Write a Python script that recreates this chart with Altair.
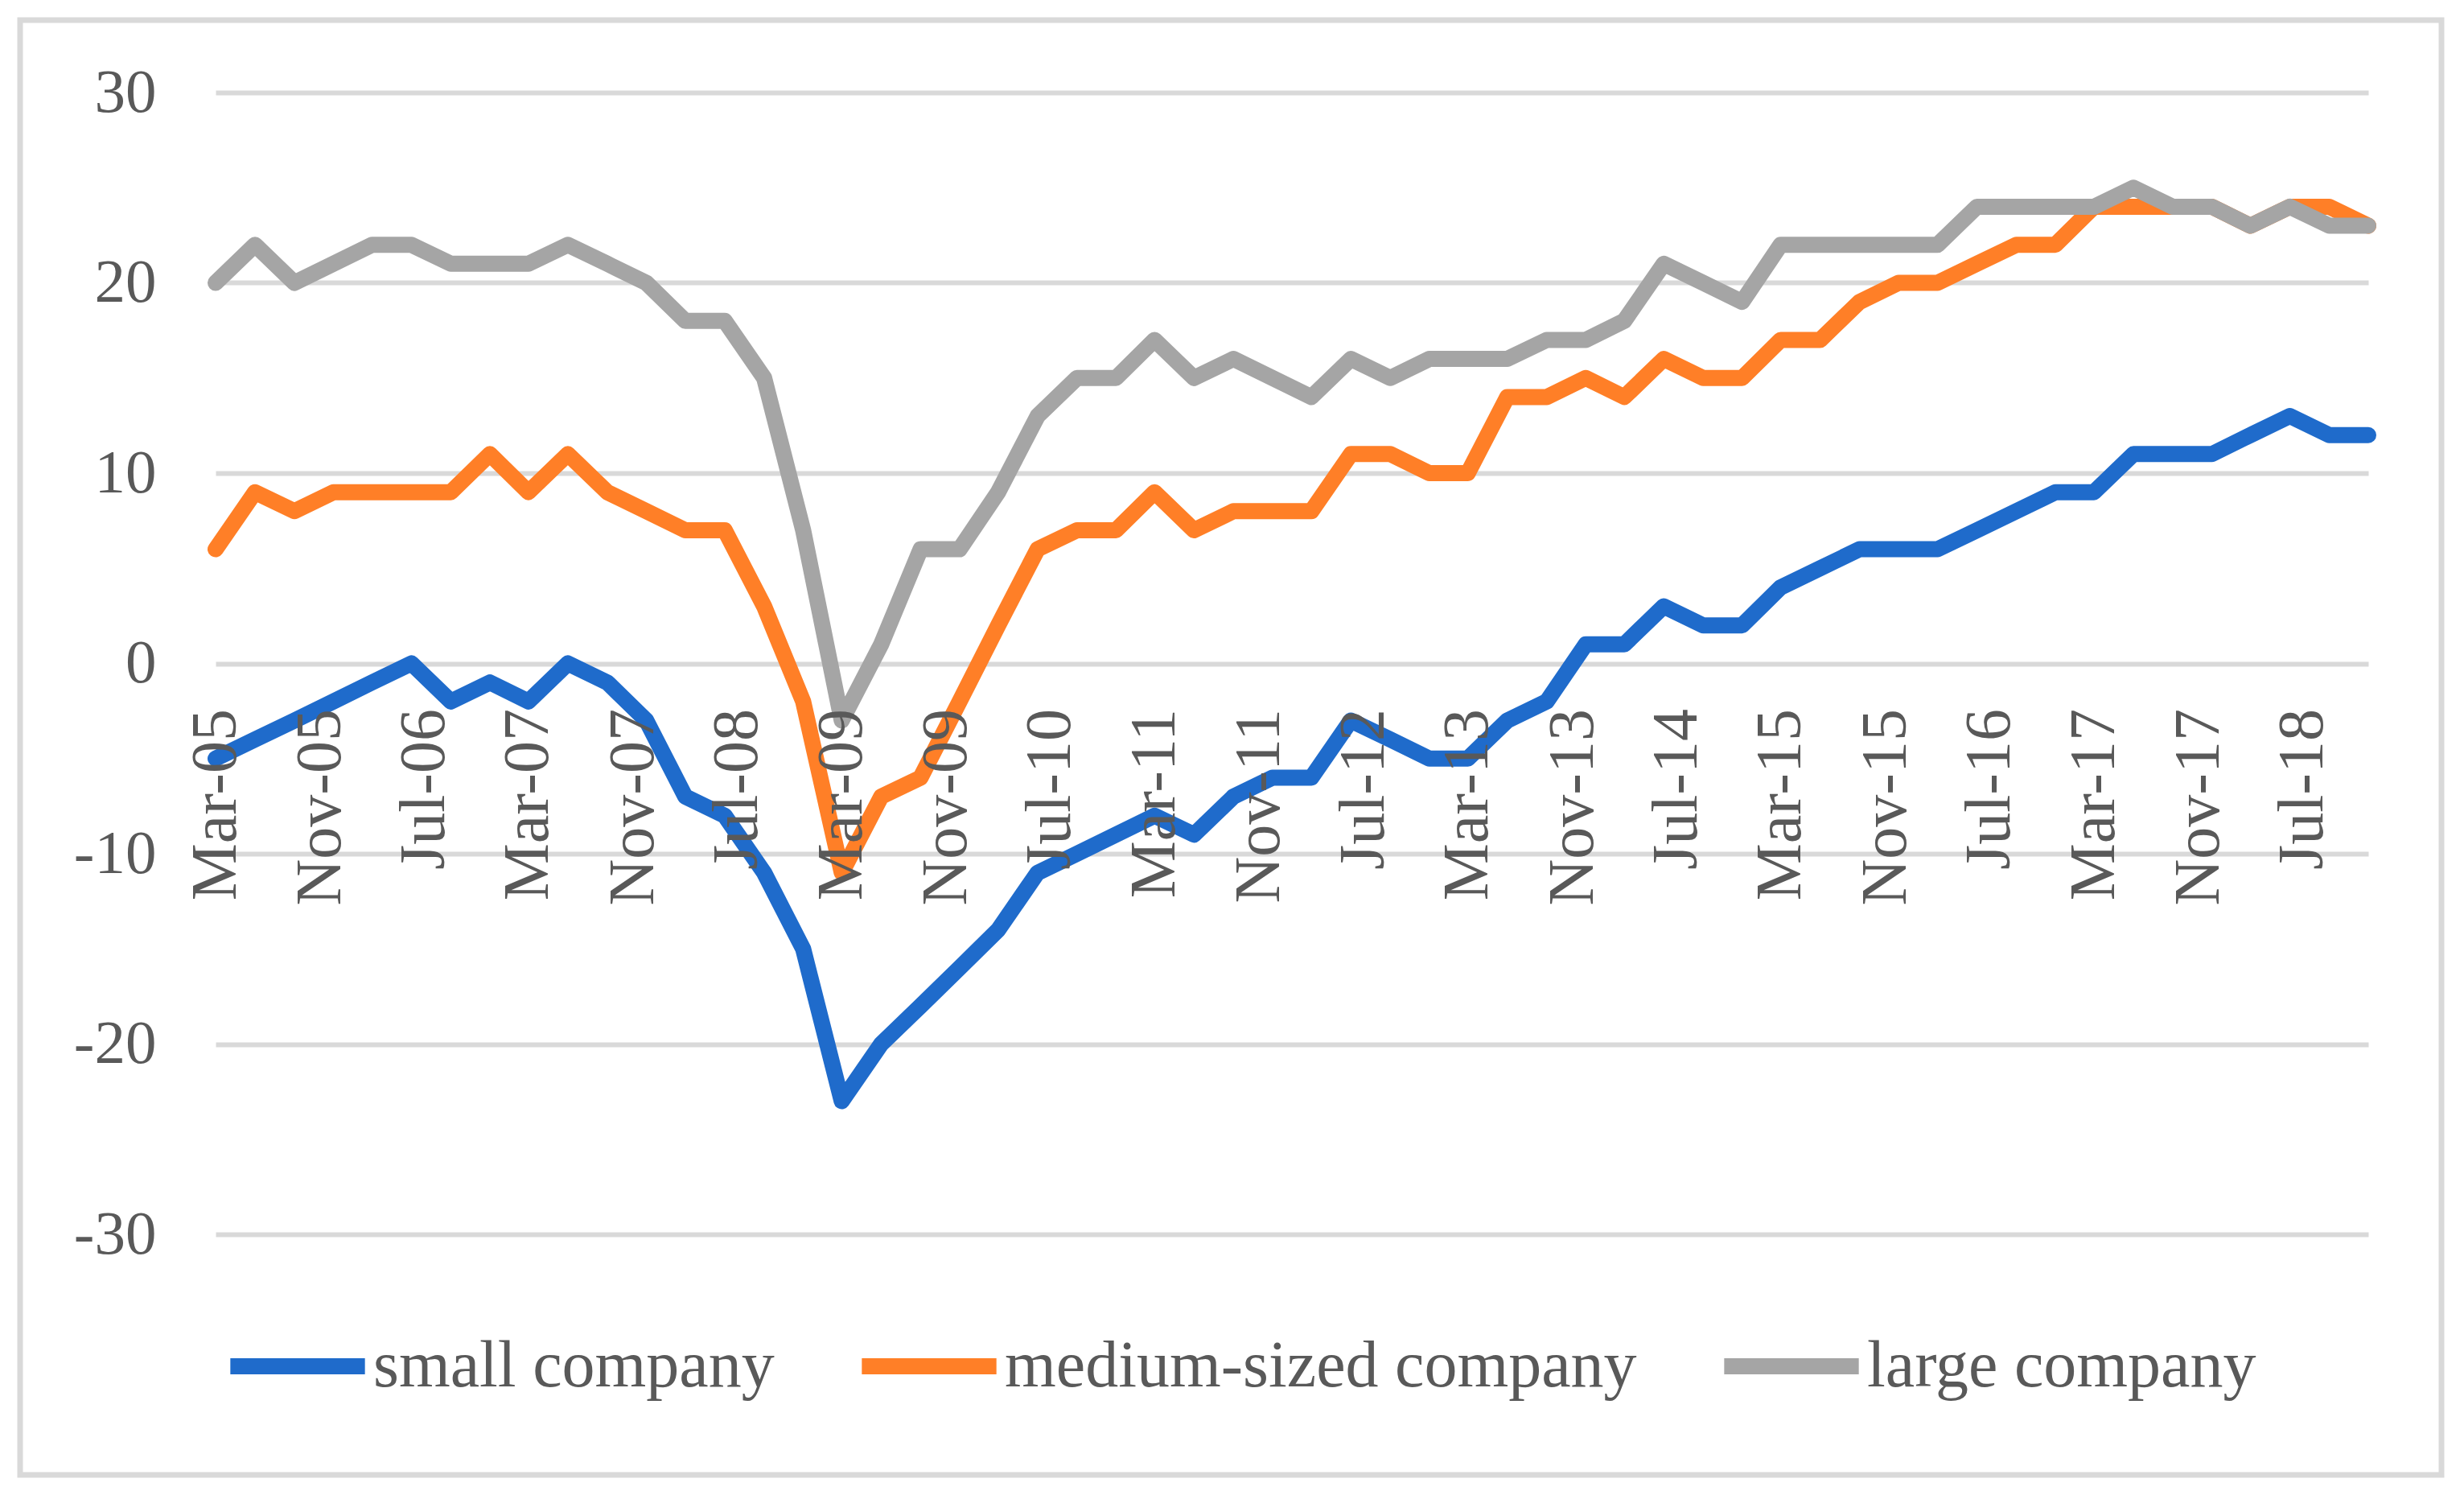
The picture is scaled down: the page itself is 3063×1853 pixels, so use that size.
import altair as alt
import pandas as pd

years = list(range(2005, 2019))
months = [3, 6, 9, 12]

small = [-5, -4, -3, -2, -1, 0, -2, -1, -2, 0, -1, -3, -7, -8, -11, -15,
         -23, -20, -18, -16, -14, -11, -10, -9, -8, -9, -7, -6, -6, -3, -4, -5,
         -5, -3, -2, 1, 1, 3, 2, 2, 4, 5, 6, 6, 6, 7, 8, 9,
         9, 11, 11, 11, 12, 13, 12, 12]
medium = [6, 9, 8, 9, 9, 9, 9, 11, 9, 11, 9, 8, 7, 7, 3, -2,
          -11, -7, -6, -2, 2, 6, 7, 7, 9, 7, 8, 8, 8, 11, 11, 10,
          10, 14, 14, 15, 14, 16, 15, 15, 17, 17, 19, 20, 20, 21, 22, 22,
          24, 24, 24, 24, 23, 24, 24, 23]
large = [20, 22, 20, 21, 22, 22, 21, 21, 21, 22, 21, 20, 18, 18, 15, 7,
         -3, 1, 6, 6, 9, 13, 15, 15, 17, 15, 16, 15, 14, 16, 15, 16,
         16, 16, 17, 17, 18, 21, 20, 19, 22, 22, 22, 22, 22, 24, 24, 24,
         24, 25, 24, 24, 23, 24, 23, 23]

series_names = ["small company", "medium-sized company", "large company"]
colors = ["#1F6BCB", "#FF7F27", "#A5A5A5"]

# tick labels (every 8 months)
label_ym = [(2005, 3), (2005, 11), (2006, 7), (2007, 3), (2007, 11), (2008, 7),
            (2009, 3), (2009, 11), (2010, 7), (2011, 3), (2011, 11), (2012, 7),
            (2013, 3), (2013, 11), (2014, 7), (2015, 3), (2015, 11), (2016, 7),
            (2017, 3), (2017, 11), (2018, 7)]
y_ticks = [-30, -20, -10, 0, 10, 20, 30]

# ---- build table ----
dates = [pd.Timestamp(year=y, month=m, day=1) for y in years for m in months]
rows = []
for name, vals in zip(series_names, [small, medium, large]):
    for d, v in zip(dates, vals):
        rows.append({"date": d, "value": v, "series": name})
df = pd.DataFrame(rows)

FONT = "Liberation Serif"
TXT = "#595959"

x_axis = alt.Axis(
    values=[alt.DateTime(year=y, month=m, date=1) for y, m in label_ym],
    format="%b-%y", labelAngle=270, labelPadding=56, offset=-709.5,
    domain=False, ticks=False, grid=False, title=None,
    labelFont=FONT, labelFontSize=80, labelColor=TXT, labelLimit=0,
    labelOverlap=False, labelFlush=False, zindex=1,
)
y_axis = alt.Axis(
    values=y_ticks, labelExpr="'' + datum.value",
    domain=False, ticks=False, grid=True, gridColor="#D9D9D9", gridWidth=6,
    labelPadding=74, title=None,
    labelFont=FONT, labelFontSize=77, labelColor=TXT,
)

lines = alt.Chart(df).mark_line(strokeWidth=20, strokeCap="round", strokeJoin="round").encode(
    x=alt.X("date:T",
            scale=alt.Scale(domain=[alt.DateTime(year=2005, month=3, date=1),
                                    alt.DateTime(year=2018, month=12, date=1)]),
            axis=x_axis),
    y=alt.Y("value:Q", scale=alt.Scale(domain=[-30, 30]), axis=y_axis),
    color=alt.Color("series:N",
                    scale=alt.Scale(domain=series_names, range=colors),
                    sort=series_names,
                    legend=alt.Legend(orient="none", legendX=8, legendY=1489,
                                      direction="horizontal", title=None,
                                      symbolType="stroke", symbolSize=28000,
                                      symbolStrokeWidth=20,
                                      labelFont=FONT, labelFontSize=82,
                                      labelColor=TXT, labelOffset=0,
                                      columnPadding=68, padding=0,
                                      labelLimit=0)),
)

frame = alt.Chart(pd.DataFrame({"k": [0]})).mark_rect(
    fillOpacity=0, stroke="#D9D9D9", strokeWidth=7
).encode(
    x=alt.value(-243), x2=alt.value(2767), y=alt.value(-90), y2=alt.value(1718)
)

chart = alt.layer(frame, lines).properties(
    width=2676, height=1419,
    padding={"left": 260, "top": 107, "right": 106, "bottom": 305},
    autosize=alt.AutoSizeParams(type="none"),
).configure_view(strokeWidth=0)

chart.save("out.html", embed_options={"renderer": "svg", "actions": False})
